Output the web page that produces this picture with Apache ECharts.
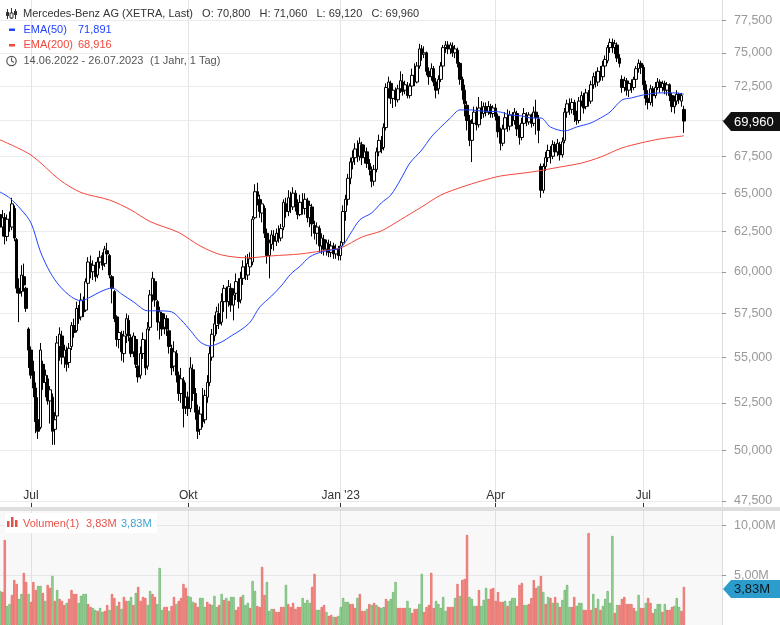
<!DOCTYPE html>
<html>
<head>
<meta charset="utf-8">
<title>Mercedes-Benz AG</title>
<script src="https://cdn.jsdelivr.net/npm/echarts@6/dist/echarts.min.js"></script>
<style>html,body{margin:0;padding:0;background:#fff;}</style>
</head>
<body>
<div id="main" style="width:780px;height:625px;"></div>
<script type="text/javascript">
// x axis: trading-day index of the month labels
var tickIdx = [13, 79, 143, 208, 270];
var tickText = ['Jul', 'Okt', "Jan '23", 'Apr', 'Jul'];
var priceTicks = [47.5, 50, 52.5, 55, 57.5, 60, 62.5, 65, 67.5, 70, 72.5, 75, 77.5];
var volTicks = [5, 10];
var holidays = ['2022-12-26', '2023-04-07', '2023-04-10', '2023-05-01'];

// daily candles [open, close, low, high], 14.06.2022 - 26.07.2023
var candles = [
  [63.6,62.8,62.3,64.0],[62.8,63.4,62.2,63.9],[63.4,62.2,61.7,63.7],[62.2,63.3,61.9,63.6],[63.3,63.0,62.5,63.8],
  [62.8,64.3,62.6,64.7],[64.0,62.1,61.9,64.2],[62.0,59.0,58.7,62.1],[59.0,58.7,57.0,59.6],[58.8,59.8,58.5,60.4],
  [59.7,59.2,58.8,60.5],[59.0,57.8,57.6,59.1],[56.6,55.4,54.4,56.7],[55.4,54.0,53.8,55.6],[54.2,53.3,52.8,54.8],
  [53.3,51.5,50.9,53.6],[51.6,51.0,50.6,52.8],[51.2,55.4,51.1,55.8],[54.6,53.6,53.2,54.8],[53.6,54.0,52.8,54.3],
  [53.8,52.6,52.4,54.0],[52.6,53.2,51.4,53.4],[52.8,51.0,50.3,53.0],[51.1,51.6,50.3,52.0],[51.8,55.8,51.6,56.2],
  [55.6,56.3,54.8,56.7],[56.2,55.0,54.6,56.5],[55.0,55.4,54.4,55.7],[55.3,54.6,54.2,55.6],[54.7,55.5,54.4,55.8],
  [55.6,56.8,55.4,57.0],[56.8,56.4,56.1,57.2],[56.5,57.8,56.4,58.2],[57.8,57.2,56.9,58.0],[57.3,58.3,57.1,58.7],
  [58.2,57.6,57.3,58.5],[57.7,59.4,57.6,59.6],[59.3,60.6,59.0,60.9],[60.5,60.0,59.6,61.0],[60.0,60.4,59.5,60.7],
  [60.4,59.7,59.4,60.6],[59.8,60.6,59.6,60.9],[60.6,60.9,60.2,61.3],[61.0,60.4,60.1,61.2],[60.5,61.4,60.3,61.6],
  [61.3,61.1,60.8,61.8],[61.0,59.8,59.6,61.1],[59.7,59.0,58.1,59.8],[58.8,57.2,57.0,58.9],[57.3,56.0,55.6,57.4],
  [56.0,56.4,55.5,56.8],[56.3,55.3,54.8,56.5],[55.2,56.2,54.7,56.5],[56.3,57.2,55.8,57.5],[57.1,56.2,55.9,57.4],
  [56.1,55.2,55.0,56.3],[55.3,56.2,55.0,56.4],[56.0,54.6,54.4,56.2],[54.5,53.9,53.6,54.8],[54.0,55.2,53.8,55.6],
  [55.2,56.0,54.9,56.4],[55.8,54.4,54.0,56.0],[54.5,56.6,54.3,57.0],[56.7,58.6,56.5,58.9],[58.6,59.6,58.2,60.0],
  [59.4,58.3,57.9,59.6],[58.2,57.0,56.5,58.3],[57.0,57.6,56.0,57.9],[57.5,56.6,56.2,57.6],[56.7,57.2,56.3,57.5],
  [57.2,56.6,56.2,57.4],[56.5,55.6,55.2,56.6],[55.5,54.4,54.0,55.7],[54.5,55.3,54.2,55.9],[55.2,54.0,53.6,55.4],
  [54.0,53.0,52.6,54.2],[53.0,53.8,52.5,54.4],[53.7,52.2,51.2,53.9],[52.3,52.8,51.9,53.6],[52.8,52.2,51.8,53.1],
  [52.2,54.4,52.0,55.0],[54.3,53.0,52.6,54.6],[53.0,52.0,51.6,53.3],[52.1,51.0,50.6,52.4],[51.1,51.9,50.8,52.3],
  [51.9,51.5,51.2,53.3],[51.6,52.9,51.4,53.2],[52.8,53.6,52.5,54.0],[53.6,55.2,53.4,55.6],[55.0,56.3,54.8,56.6],
  [56.2,56.9,55.9,57.4],[56.8,57.6,56.3,57.9],[57.5,56.9,56.6,58.1],[57.0,58.2,56.8,58.7],[58.2,59.0,57.6,59.2],
  [58.9,58.2,57.2,59.1],[58.2,59.1,57.9,59.5],[59.0,58.0,57.6,59.3],[58.0,58.6,57.1,59.0],[58.7,59.4,58.3,59.9],
  [59.3,58.2,57.8,59.6],[58.3,59.6,58.1,60.0],[59.6,60.3,59.2,60.7],[60.3,59.8,59.5,61.0],[59.8,60.5,59.5,61.1],
  [60.3,60.8,59.9,61.2],[60.6,63.3,60.4,63.5],[63.4,65.1,63.3,65.6],[65.1,64.8,64.2,65.7],[64.6,63.8,63.4,64.9],
  [63.7,64.3,63.1,64.6],[64.0,62.4,62.1,64.2],[62.4,61.0,60.5,62.7],[61.0,61.8,59.6,62.0],[61.7,62.3,61.4,62.6],
  [62.2,61.9,61.3,62.6],[61.9,62.4,61.6,62.7],[62.4,62.1,61.8,62.9],[62.1,62.7,61.9,63.0],[62.8,64.4,62.6,64.6],
  [64.3,63.8,63.4,64.7],[63.8,64.7,63.5,65.2],[64.6,64.2,63.7,65.1],[64.1,65.0,63.9,65.4],[65.0,64.3,63.8,65.2],
  [64.3,63.6,63.3,64.6],[63.6,64.4,63.5,64.9],[64.4,64.0,63.6,65.0],[64.0,64.6,63.6,65.0],[64.5,63.4,63.1,64.7],
  [63.4,64.2,62.8,64.5],[64.1,63.0,62.2,64.3],[62.9,62.4,62.0,63.2],[62.4,62.8,61.7,63.1],[62.7,61.6,61.2,62.9],
  [61.6,62.1,61.1,62.4],[62.0,61.4,61.0,62.3],[61.4,61.8,61.0,62.0],[61.7,61.2,60.9,62.0],[61.2,61.6,60.9,61.9],
  [61.6,61.1,60.8,61.8],[61.1,61.4,60.8,61.7],[61.3,61.0,60.7,61.6],[61.0,61.6,60.7,61.9],[61.8,63.8,61.6,64.2],
  [63.8,64.6,63.2,64.9],[64.6,66.0,64.2,66.3],[66.0,67.1,65.6,67.4],[67.1,67.4,66.6,67.9],[67.4,68.0,66.9,68.4],
  [68.0,67.5,67.1,68.6],[67.5,68.4,67.2,68.8],[68.3,67.4,66.9,68.5],[67.4,67.8,67.0,68.3],[67.8,67.0,66.7,68.1],
  [67.0,66.6,66.2,67.3],[66.5,65.8,65.4,66.8],[65.8,66.6,65.5,66.9],[66.6,67.8,66.4,68.1],[67.8,68.6,67.5,69.0],
  [68.5,68.0,67.7,68.9],[68.1,69.5,67.9,69.8],[69.5,72.4,69.3,72.7],[72.3,72.8,71.6,73.2],[72.7,71.6,71.2,72.9],
  [71.6,72.2,70.9,72.5],[72.1,71.5,71.0,72.4],[71.5,72.3,71.3,72.6],[72.3,72.9,72.0,73.6],[72.8,72.1,71.8,73.4],
  [72.2,72.6,71.9,72.9],[72.5,71.8,71.6,72.8],[71.8,72.5,71.6,72.7],[72.5,73.3,72.3,73.8],[73.3,72.9,72.5,74.2],
  [72.8,74.0,72.7,74.3],[74.0,75.3,73.8,75.7],[75.3,74.9,74.4,75.6],[74.9,75.0,74.6,75.5],[75.0,73.6,73.3,75.1],
  [73.6,73.2,72.6,73.9],[73.2,73.8,72.9,74.2],[73.8,72.8,72.5,74.0],[72.8,72.2,71.6,73.1],[72.3,73.0,71.9,73.3],
  [73.0,74.0,72.8,74.3],[74.0,75.4,73.8,75.6],[75.4,75.6,75.0,75.9],[75.6,75.3,74.9,75.9],[75.3,75.6,74.9,75.8],
  [75.5,75.0,74.7,75.8],[75.0,75.3,74.6,75.6],[75.2,74.2,73.9,75.4],[74.2,73.0,72.6,74.3],[73.0,72.2,71.5,73.2],
  [72.2,71.2,70.3,72.6],[71.1,70.0,69.3,71.4],[70.0,68.6,68.2,70.4],[68.6,69.8,67.1,70.1],[69.8,70.6,69.5,71.0],
  [70.6,69.7,69.3,71.0],[69.7,70.9,69.5,71.7],[70.9,70.5,70.1,71.4],[70.5,71.0,70.2,71.3],[71.0,70.6,70.3,71.3],
  [70.6,71.0,70.4,71.4],[71.0,70.5,70.2,71.2],[70.5,70.9,70.2,71.1],[70.9,70.3,70.0,71.2],[70.3,69.2,68.8,70.5],
  [69.2,68.4,67.9,69.5],[68.4,69.4,68.2,69.7],[69.4,70.2,69.1,70.6],[70.2,69.6,69.2,70.8],[69.6,70.4,69.3,70.7],
  [70.4,70.0,69.6,70.6],[70.0,70.6,69.7,70.9],[70.5,69.4,68.9,70.7],[69.4,68.8,68.3,69.7],[68.8,69.8,68.6,70.2],
  [69.8,70.5,69.5,70.9],[70.4,69.9,69.6,70.6],[69.9,70.4,69.7,70.6],[70.4,69.8,69.5,70.5],[69.8,70.6,69.6,71.0],
  [70.6,70.2,69.0,71.5],[70.1,69.3,68.4,70.4],[66.8,65.2,64.7,67.0],[65.2,66.8,65.0,67.0],[66.8,67.4,66.5,67.8],
  [67.4,67.9,67.1,68.3],[67.9,67.5,67.0,68.2],[67.5,68.3,67.3,68.6],[68.3,67.8,67.5,68.5],[67.8,68.4,67.5,68.7],
  [68.3,67.6,67.2,68.5],[67.6,68.5,67.4,68.8],[68.6,70.6,68.4,70.9],[70.6,71.2,70.2,71.5],[71.2,70.8,70.4,71.6],
  [70.8,71.3,70.5,71.6],[71.3,70.4,69.9,71.5],[70.4,70.0,69.7,70.7],[70.0,71.4,69.8,71.7],[71.4,71.8,71.0,72.1],
  [71.7,70.9,70.5,72.0],[71.0,72.0,70.8,72.3],[72.0,71.4,71.0,72.2],[71.4,72.6,71.2,72.9],[72.6,73.2,72.3,73.5],
  [73.2,72.8,72.4,73.6],[72.8,73.6,72.5,73.9],[73.6,73.2,72.9,74.0],[73.2,74.0,72.9,74.4],[74.0,74.5,73.7,74.8],
  [74.4,75.4,74.2,75.6],[75.4,75.8,75.0,76.1],[75.8,75.4,75.0,76.1],[75.4,75.7,74.9,76.0],[75.6,74.6,74.3,75.8],
  [74.6,74.2,73.9,74.9],[73.0,72.4,72.0,73.3],[72.4,72.9,72.1,73.2],[72.9,72.2,71.8,73.1],[72.2,72.7,71.7,72.9],
  [72.7,72.4,72.0,73.0],[72.4,73.0,72.2,73.2],[73.0,73.8,72.8,74.0],[73.8,74.2,73.5,74.5],[74.2,73.9,73.4,74.4],
  [73.9,72.6,72.2,74.1],[72.6,71.6,71.1,72.9],[71.6,71.3,70.8,72.2],[71.3,72.3,71.1,72.6],[72.3,71.8,71.0,72.5],
  [71.8,72.4,71.6,72.8],[72.4,72.8,72.2,73.1],[72.8,72.4,72.0,73.0],[72.4,72.7,72.1,72.9],[72.7,72.2,71.9,72.9],
  [72.2,72.6,71.8,72.8],[72.6,71.8,71.4,72.7],[71.8,71.0,70.6,72.0],[71.0,71.4,70.5,71.8],[71.4,71.9,71.1,72.2],
  [71.9,71.5,71.2,72.0],[71.4,71.8,71.0,72.0],[70.8,69.96,69.12,71.06]
];

// volume in millions, and its colour (1 = green, 0 = red)
var volumes = [
  3.42,3.32,8.56,1.91,2.11,3.02,4.53,4.13,2.62,3.12,5.24,4.33,3.12,2.32,4.33,3.52,3.93,3.93,3.22,2.42,
  4.03,3.73,4.93,2.42,3.52,2.62,2.42,2.01,2.22,2.62,3.52,3.12,3.12,2.22,2.92,3.12,3.12,2.11,1.81,1.71,
  1.51,1.41,1.71,1.31,1.41,2.01,1.51,3.12,2.72,1.91,2.32,1.61,2.82,2.42,2.42,2.82,2.01,3.22,3.83,2.42,
  2.82,2.72,2.01,3.42,3.12,2.82,2.11,5.74,1.51,1.81,1.81,1.41,1.91,2.82,2.11,2.42,2.72,4.13,3.73,2.92,
  2.82,2.32,2.22,1.81,2.72,2.72,1.81,2.32,2.11,2.01,2.92,1.81,2.01,3.12,2.52,2.72,2.42,2.82,2.82,1.51,
  1.81,2.82,3.02,2.01,2.22,1.71,4.43,3.42,1.91,1.81,5.84,3.02,4.33,1.41,1.61,1.61,1.31,1.31,1.81,1.81,
  4.03,2.11,1.81,2.22,1.61,1.81,1.81,2.72,2.22,2.52,2.22,3.83,5.14,1.51,1.51,1.81,2.01,1.31,0.91,1.01,
  0.81,0.81,0.91,1.81,2.72,2.32,2.32,2.11,2.11,1.71,2.72,3.12,1.41,1.41,1.61,2.11,2.01,2.22,2.01,1.81,
  1.71,1.81,2.62,2.42,2.62,3.32,4.33,1.71,1.71,1.71,1.71,2.42,1.71,1.21,1.61,1.61,2.11,5.14,1.31,1.81,
  2.01,5.24,1.71,2.42,2.11,1.71,2.82,1.41,1.81,1.81,1.81,2.72,4.13,2.92,4.53,4.63,9.06,2.82,2.62,1.91,
  1.91,3.52,1.91,2.52,3.73,2.62,3.63,3.73,2.42,3.32,2.32,2.32,2.42,1.91,2.42,2.72,2.72,1.91,4.03,4.23,
  2.01,2.01,2.11,2.72,4.53,3.73,3.93,4.93,3.32,2.11,2.82,2.72,2.22,2.82,2.22,1.81,2.52,3.52,4.03,1.81,
  1.81,2.82,1.91,2.22,2.22,1.51,1.51,9.26,1.51,3.12,1.71,2.62,1.51,1.91,2.62,3.42,2.22,8.96,1.21,2.01,
  2.01,2.62,2.82,2.11,2.11,2.11,1.71,1.41,3.02,1.71,1.71,2.22,2.72,2.22,1.21,1.61,2.11,2.11,1.31,2.11,
  1.51,1.51,1.81,1.91,2.72,1.81,1.41,3.83
];
var volUp = [
  1,0,0,1,1,0,0,0,1,1,0,0,1,0,0,0,1,1,0,1,
  0,0,1,0,1,0,0,0,1,0,0,0,0,1,1,1,1,0,0,1,
  1,0,1,1,0,0,1,0,0,1,0,1,0,0,1,1,0,1,0,0,
  0,0,1,1,0,0,1,1,1,0,0,1,0,0,1,0,0,0,0,1,
  1,1,0,0,1,1,1,0,0,1,1,1,0,1,0,1,0,1,1,0,
  0,0,1,1,1,0,1,1,0,0,0,0,1,1,1,0,0,0,0,0,
  1,0,0,0,0,0,0,1,1,1,1,0,0,1,1,0,0,1,0,0,
  1,0,1,1,1,1,1,0,0,0,1,0,0,0,1,0,1,0,1,0,
  1,1,0,1,1,1,1,0,0,0,0,1,1,0,0,0,1,1,0,0,
  0,0,0,1,1,1,1,1,0,0,0,1,0,1,0,0,0,1,1,1,
  0,0,1,1,1,0,0,0,0,0,0,0,1,0,1,1,1,0,0,0,
  1,1,0,0,0,0,1,0,1,0,1,0,1,0,1,0,1,1,1,1,
  0,0,1,1,1,0,0,0,0,1,0,1,0,1,1,1,1,1,0,1,
  0,0,0,0,0,0,0,1,1,0,0,1,0,0,0,1,1,1,0,1,
  0,0,0,1,1,1,0,0
];

// EMA lines: [day index, value]
var ema50 = [
  [0,65.08],[4,64.7],[9,63.9],[13,63.07],[17,61.23],[21,59.98],[25,59.14],[30,58.48],[34,58.25],[38,58.48],
  [42,58.78],[47,59.02],[51,58.66],[56,58.19],[62,57.66],[66,57.66],[72,57.6],[76,57.13],[80,56.5],[84,55.86],
  [88,55.63],[93,55.86],[97,56.2],[101,56.54],[105,57.0],[109,57.88],[114,58.54],[118,59.14],[122,59.86],[126,60.35],
  [130,60.92],[135,61.23],[139,61.35],[143,61.48],[147,62.36],[151,63.26],[156,63.71],[160,64.36],[164,64.88],[168,65.88],
  [172,67.03],[177,67.93],[181,68.84],[185,69.54],[189,70.18],[193,70.76],[198,70.76],[202,70.68],[210,70.61],[214,70.4],
  [219,70.33],[223,70.18],[227,70.18],[231,69.54],[237,69.26],[242,69.54],[248,69.83],[252,70.18],[256,70.61],[261,71.48],
  [265,71.63],[270,71.85],[277,72.0],[284,72.0],[287,71.891]
];
var ema200 = [
  [0,68.63],[13,67.58],[25,65.9],[34,65.05],[46,64.55],[55,63.9],[63,63.15],[75,62.45],[84,61.6],[93,61.04],
  [104,60.86],[114,60.98],[126,61.1],[135,61.29],[143,61.48],[152,62.17],[160,62.55],[168,63.26],[177,64.1],[185,64.88],
  [194,65.42],[202,65.82],[210,66.15],[223,66.42],[235,66.76],[244,67.03],[252,67.44],[261,68.07],[269,68.42],[277,68.7],
  [287,68.916]
];

// category labels: trading days, then empty room on the right
var days = [];
var d = new Date(Date.UTC(2022, 5, 14));
while (days.length < candles.length) {
  var s = d.toISOString().slice(0, 10);
  var wd = d.getUTCDay();
  if (wd > 0 && wd < 6 && holidays.indexOf(s) < 0) days.push(s);
  d.setUTCDate(d.getUTCDate() + 1);
}
for (var k = 1; days.length < 304; k++) days.push('+' + k);

var FONT = 'Liberation Sans, Arial, sans-serif';
var isTick = function (idx) { return tickIdx.indexOf(idx) >= 0; };
var de = function (v, n) { return v.toFixed(n).replace('.', ','); };

var volData = volumes.map(function (v, i) {
  return {
    value: v,
    itemStyle: volUp[i]
      ? { color: '#a4d8a0', borderColor: '#4fa650' }
      : { color: '#f4928c', borderColor: '#e2504a' }
  };
});

// small helper for the text items of the legends and tags
function label(x, y, text, fill, size, z) {
  return {
    type: 'text', z: z || 50,
    style: { x: x, y: y, text: text, fill: fill, fontSize: size || 11, fontFamily: FONT, verticalAlign: 'middle' }
  };
}

var myChart = echarts.init(document.getElementById('main'));
var option = {
  animation: false,
  backgroundColor: '#fff',
  grid: [
    { left: -1, top: 0, width: 723, height: 507 },
    { left: -1, top: 511, width: 723, height: 114, show: true, backgroundColor: '#f8f8f8', borderWidth: 0 }
  ],
  xAxis: [
    {
      type: 'category', gridIndex: 0, data: days, boundaryGap: false,
      axisLine: { show: false },
      axisTick: { show: true, inside: true, length: 4, interval: isTick, lineStyle: { color: '#333' } },
      axisLabel: {
        inside: true, interval: isTick, margin: 5, color: '#333', fontSize: 12, fontFamily: FONT,
        formatter: function (v, idx) { return tickText[tickIdx.indexOf(idx)] || ''; }
      },
      splitLine: { show: true, interval: isTick, lineStyle: { color: '#e4e4e4' } }
    },
    {
      type: 'category', gridIndex: 1, data: days, boundaryGap: false,
      axisLine: { show: false }, axisTick: { show: false }, axisLabel: { show: false },
      splitLine: { show: true, interval: isTick, lineStyle: { color: '#e0e0e0' } }
    }
  ],
  yAxis: [
    {
      type: 'log', gridIndex: 0, position: 'right', min: 47.21, max: 79.15,
      axisLine: { show: true, lineStyle: { color: '#dcdcdc' } },
      axisTick: { show: true, length: 4, customValues: priceTicks, lineStyle: { color: '#999' } },
      axisLabel: {
        customValues: priceTicks, margin: 12, color: '#999', fontSize: 12.5, fontFamily: FONT,
        formatter: function (v) { return de(v, 3); }
      },
      splitLine: { show: true, lineStyle: { color: '#ebebeb' } }
    },
    {
      type: 'value', gridIndex: 1, position: 'right', min: 0, max: 11.48,
      axisLine: { show: true, lineStyle: { color: '#dcdcdc' } },
      axisTick: { show: true, length: 4, customValues: volTicks, lineStyle: { color: '#999' } },
      axisLabel: {
        customValues: volTicks, margin: 12, color: '#999', fontSize: 12.5, fontFamily: FONT,
        formatter: function (v) { return de(v, 2) + 'M'; }
      },
      splitLine: { show: true, lineStyle: { color: '#e6e6e6' } }
    }
  ],
  series: [
    {
      name: 'Mercedes-Benz AG', type: 'candlestick', xAxisIndex: 0, yAxisIndex: 0,
      data: candles, barWidth: 3,
      itemStyle: { color: '#fff', color0: '#000', borderColor: '#000', borderColor0: '#000', borderWidth: 1 }
    },
    {
      name: 'EMA(200)', type: 'line', xAxisIndex: 0, yAxisIndex: 0, data: ema200,
      smooth: 0.3, symbol: 'none', lineStyle: { color: '#f2473d', width: 1 }
    },
    {
      name: 'EMA(50)', type: 'line', xAxisIndex: 0, yAxisIndex: 0, data: ema50,
      smooth: 0.3, symbol: 'none', lineStyle: { color: '#2243ff', width: 1 }
    },
    {
      name: 'Volumen(1)', type: 'bar', xAxisIndex: 1, yAxisIndex: 1,
      data: volData, barWidth: 2.2, itemStyle: { borderWidth: 0.6 }
    }
  ],
  graphic: [
    // separator between price and volume panel
    { type: 'rect', z: 40, shape: { x: 0, y: 507, width: 780, height: 4 }, style: { fill: '#dedede' } },
    // legend, top left
    { type: 'rect', z: 50, shape: { x: 7, y: 9, width: 1, height: 10 }, style: { fill: '#333' } },
    { type: 'rect', z: 50, shape: { x: 6, y: 12, width: 3, height: 4 }, style: { fill: '#333' } },
    { type: 'rect', z: 50, shape: { x: 11, y: 8, width: 1, height: 11 }, style: { fill: '#333' } },
    { type: 'rect', z: 51, shape: { x: 10, y: 13, width: 3, height: 5 }, style: { fill: '#fff', stroke: '#333', lineWidth: 1 } },
    { type: 'rect', z: 50, shape: { x: 15, y: 9, width: 1, height: 10 }, style: { fill: '#333' } },
    { type: 'rect', z: 50, shape: { x: 14, y: 11, width: 3, height: 4 }, style: { fill: '#333' } },
    label(23, 13.5, 'Mercedes-Benz AG (XETRA, Last)   O: 70,800   H: 71,060   L: 69,120   C: 69,960', '#333'),
    { type: 'rect', z: 50, shape: { x: 9, y: 28.5, width: 6, height: 2.5 }, style: { fill: '#2243ff' } },
    label(23.5, 29.5, 'EMA(50)', '#2243ff'),
    label(78, 29.5, '71,891', '#2243ff'),
    { type: 'rect', z: 50, shape: { x: 9, y: 44, width: 6, height: 2.5 }, style: { fill: '#f2473d' } },
    label(23.5, 45, 'EMA(200)', '#f2473d'),
    label(78, 45, '68,916', '#f2473d'),
    { type: 'circle', z: 50, shape: { cx: 11.5, cy: 61, r: 4.7 }, style: { fill: 'none', stroke: '#555', lineWidth: 1.2 } },
    { type: 'polyline', z: 50, shape: { points: [[11.5, 57.8], [11.5, 61], [14, 62.5]] }, style: { fill: 'none', stroke: '#555', lineWidth: 1.1 } },
    label(23.5, 61, '14.06.2022 - 26.07.2023', '#555'),
    label(150, 61, '(1 Jahr, 1 Tag)', '#555'),
    // volume legend
    { type: 'rect', z: 45, shape: { x: 5, y: 513, width: 152, height: 20 }, style: { fill: '#fff' } },
    { type: 'rect', z: 50, shape: { x: 7, y: 521, width: 2.5, height: 6 }, style: { fill: '#e2504a' } },
    { type: 'rect', z: 50, shape: { x: 11, y: 517, width: 2.5, height: 10 }, style: { fill: '#e2504a' } },
    { type: 'rect', z: 50, shape: { x: 15, y: 520, width: 2.5, height: 7 }, style: { fill: '#e2504a' } },
    label(23, 523.5, 'Volumen(1)', '#e8524a'),
    label(86, 523.5, '3,83M', '#e8524a'),
    label(121, 523.5, '3,83M', '#3aa3d0'),
    // last price and last volume tags, drawn over the axis labels
    { type: 'polygon', z: 100, shape: { points: [[723, 121.5], [731, 112], [780, 112], [780, 131], [731, 131]] }, style: { fill: '#111' } },
    label(734, 122, '69,960', '#fff', 13, 101),
    { type: 'polygon', z: 100, shape: { points: [[723, 589], [731, 580], [780, 580], [780, 598], [731, 598]] }, style: { fill: '#2b9ccb' } },
    label(734, 589.5, '3,83M', '#0b1b24', 13, 101)
  ]
};
myChart.setOption(option);
</script>
</body>
</html>
